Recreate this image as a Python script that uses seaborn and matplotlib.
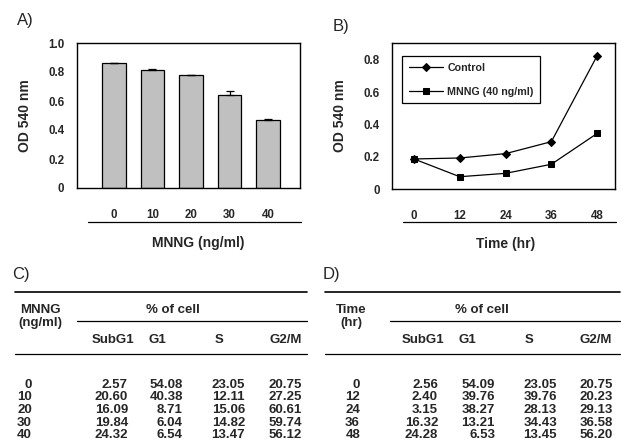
import matplotlib
matplotlib.use('Agg')
import matplotlib.pyplot as plt
from matplotlib.lines import Line2D
import numpy as np
import pandas as pd
import seaborn as sns

# ---- data ----
doses = ['0', '10', '20', '30', '40']
od_dose = [0.862, 0.816, 0.777, 0.643, 0.466]
od_dose_err = [0.002, 0.003, 0.003, 0.027, 0.012]

times = ['0', '12', '24', '36', '48']
od_control = [0.186, 0.192, 0.219, 0.293, 0.825]
od_mnng = [0.186, 0.076, 0.097, 0.153, 0.344]
series_names = ['Control', 'MNNG (40 ng/ml)']

phases = ['SubG1', 'G1', 'S', 'G2/M']
table_c_rows = ['0', '10', '20', '30', '40']
table_c_subg1 = ['2.57', '20.60', '16.09', '19.84', '24.32']
table_c_g1 = ['54.08', '40.38', '8.71', '6.04', '6.54']
table_c_s = ['23.05', '12.11', '15.06', '14.82', '13.47']
table_c_g2m = ['20.75', '27.25', '60.61', '59.74', '56.12']

table_d_rows = ['0', '12', '24', '36', '48']
table_d_subg1 = ['2.56', '2.40', '3.15', '16.32', '24.28']
table_d_g1 = ['54.09', '39.76', '38.27', '13.21', '6.53']
table_d_s = ['23.05', '39.76', '28.13', '34.43', '13.45']
table_d_g2m = ['20.75', '20.23', '29.13', '36.58', '56.20']

W, H = 621, 445
TICK_FS = 8.3
LABEL_FS = 10
TABLE_FS = 9.5

sns.set_style('white')
plt.rcParams['font.family'] = ['Liberation Sans', 'DejaVu Sans']
plt.rcParams['axes.linewidth'] = 1.0

fig = plt.figure(figsize=(W / 100, H / 100), dpi=100)


def fx(x):
    return x / W


def fy(y):
    return 1 - y / H


def hline(x0, x1, y, lw=0.9):
    fig.add_artist(Line2D([fx(x0), fx(x1)], [fy(y), fy(y)],
                          transform=fig.transFigure, color='black', lw=lw))


def axes_px(left, top, right, bottom):
    return fig.add_axes([fx(left), fy(bottom), (right - left) / W, (bottom - top) / H])


# ---- A) bar chart ----
ax_a = axes_px(77, 43, 300, 188)
df_a = pd.DataFrame({'dose': doses, 'od': od_dose})
sns.barplot(data=df_a, x='dose', y='od', order=doses, color='#C0C0C0',
            edgecolor='black', linewidth=0.9, width=0.6, saturation=1, ax=ax_a)
centers = [p.get_x() + p.get_width() / 2 for p in ax_a.patches]
ax_a.errorbar(centers, od_dose, yerr=[np.zeros(len(od_dose)), od_dose_err],
              fmt='none', ecolor='black', elinewidth=0.9, capsize=3, capthick=0.9)
ax_a.set_xlim(-0.96, 4.83)
ax_a.set_ylim(0, 1.0)
ax_a.set_yticks([0, 0.2, 0.4, 0.6, 0.8, 1.0])
ax_a.set_yticklabels(['0', '0.2', '0.4', '0.6', '0.8', '1.0'])
ax_a.tick_params(axis='y', direction='in', length=3, width=0.9, pad=9, labelsize=TICK_FS)
ax_a.tick_params(axis='x', direction='out', length=3, width=0.9, pad=12, labelsize=TICK_FS)
for lab in ax_a.get_xticklabels() + ax_a.get_yticklabels():
    lab.set_fontweight('bold')
ax_a.set_ylabel('OD 540 nm', fontsize=LABEL_FS, fontweight='bold')
ax_a.set_xlabel('MNNG (ng/ml)', fontsize=LABEL_FS, fontweight='bold')
ax_a.yaxis.set_label_coords(-0.2, 0.5)
ax_a.xaxis.set_label_coords(0.545, -0.33)
for sp in ax_a.spines.values():
    sp.set_visible(True)
    sp.set_color('black')
hline(88, 301, 222)

# ---- B) line chart ----
ax_b = axes_px(392, 43, 615, 189)
df_b = pd.DataFrame({
    'pos': list(range(len(times))) * 2,
    'od': od_control + od_mnng,
    'group': [series_names[0]] * len(times) + [series_names[1]] * len(times),
})
sns.lineplot(data=df_b, x='pos', y='od', style='group', style_order=series_names,
             markers={series_names[0]: 'D', series_names[1]: 's'}, dashes=False,
             color='black', linewidth=0.9, markersize=4.5, markeredgecolor='black',
             ax=ax_b)
ax_b.set_xlim(-0.48, 4.39)
ax_b.set_ylim(0, 0.904)
ax_b.set_yticks([0, 0.2, 0.4, 0.6, 0.8])
ax_b.set_yticklabels(['0', '0.2', '0.4', '0.6', '0.8'])
ax_b.set_xticks(range(len(times)))
ax_b.set_xticklabels(times)
ax_b.set_xticks([0.5, 1.5, 2.5, 3.5], minor=True)
ax_b.tick_params(axis='y', direction='in', length=3, width=0.9, pad=9, labelsize=TICK_FS)
ax_b.tick_params(axis='x', which='major', length=0, pad=15, labelsize=TICK_FS)
ax_b.tick_params(axis='x', which='minor', direction='in', length=3, width=0.9)
for lab in ax_b.get_xticklabels() + ax_b.get_yticklabels():
    lab.set_fontweight('bold')
ax_b.set_ylabel('OD 540 nm', fontsize=LABEL_FS, fontweight='bold')
ax_b.set_xlabel('Time (hr)', fontsize=LABEL_FS, fontweight='bold')
ax_b.yaxis.set_label_coords(-0.2, 0.5)
ax_b.xaxis.set_label_coords(0.51, -0.33)
for sp in ax_b.spines.values():
    sp.set_visible(True)
    sp.set_color('black')
leg = ax_b.legend(loc='upper left', bbox_to_anchor=(0.022, 0.945), frameon=True,
                  fancybox=False, edgecolor='black', framealpha=1,
                  prop={'weight': 'bold', 'size': 7.7}, handlelength=3.2,
                  labelspacing=1.3, borderpad=0.6, handletextpad=0.4)
leg.get_frame().set_linewidth(0.9)
hline(403, 616, 222)

# ---- panel letters ----
for letter, x, y in [('A)', 17, 20), ('B)', 333, 26), ('C)', 12, 274), ('D)', 323, 274)]:
    fig.text(fx(x), fy(y), letter, fontsize=12, ha='left', va='center')


# ---- C) and D) tables ----
def draw_table(x0, x1, row_head, row_labels, row_right, columns, head_centers,
               col_rights, pct_center, sub_left):
    bold = dict(fontsize=TABLE_FS, fontweight='bold', va='center')
    hline(x0, x1, 292, lw=1.2)
    fig.text(fx(row_head[2]), fy(310), row_head[0], ha='center', **bold)
    fig.text(fx(row_head[2]), fy(323), row_head[1], ha='center', **bold)
    fig.text(fx(pct_center), fy(310), '% of cell', ha='center', **bold)
    hline(sub_left, x1, 321)
    for name, cx in zip(phases, head_centers):
        fig.text(fx(cx), fy(340), name, ha='center', **bold)
    hline(x0, x1, 354)
    row_y = [385, 397.5, 410, 422.5, 435]
    for i, lab in enumerate(row_labels):
        fig.text(fx(row_right), fy(row_y[i]), lab, ha='right', **bold)
        for col, rx in zip(columns, col_rights):
            fig.text(fx(rx), fy(row_y[i]), col[i], ha='right', **bold)


draw_table(15, 307, ('MNNG', '(ng/ml)', 40), table_c_rows, 32,
           [table_c_subg1, table_c_g1, table_c_s, table_c_g2m],
           [113, 157, 219, 286], [128, 183, 245, 302], 173, 77)
draw_table(325, 620, ('Time', '(hr)', 351), table_d_rows, 360,
           [table_d_subg1, table_d_g1, table_d_s, table_d_g2m],
           [423, 467, 529, 596], [438, 495, 557, 613], 482, 390)

fig.savefig('out.png', dpi=100)
